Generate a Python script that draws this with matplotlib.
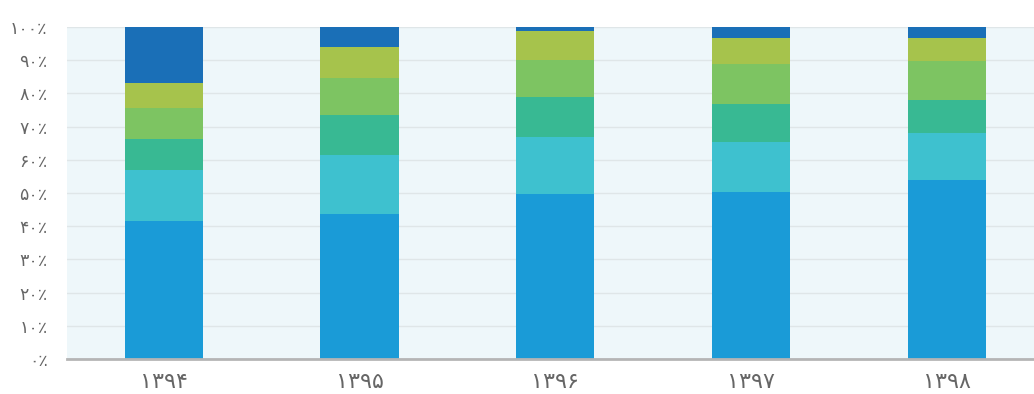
import matplotlib
matplotlib.use("Agg")
import matplotlib.pyplot as plt
import numpy as np

years = ["۱۳۹۴", "۱۳۹۵", "۱۳۹۶", "۱۳۹۷", "۱۳۹۸"]
s1 = [41.6, 43.7, 49.6, 50.3, 54.0]
s2 = [15.2, 17.7, 17.3, 15.1, 14.1]
s3 = [9.5, 12.0, 12.1, 11.3, 9.8]
s4 = [9.2, 11.3, 11.2, 12.2, 11.8]
s5 = [7.5, 9.2, 8.7, 7.9, 7.1]
s6 = [17.0, 6.1, 1.1, 3.2, 3.2]
yticks = [0, 10, 20, 30, 40, 50, 60, 70, 80, 90, 100]
ytick_labels = ["۰٪", "۱۰٪", "۲۰٪", "۳۰٪", "۴۰٪", "۵۰٪", "۶۰٪", "۷۰٪", "۸۰٪", "۹۰٪", "۱۰۰٪"]

colors = ["#1a9bd7", "#3ec1cf", "#38b993", "#7dc462", "#a6c34c", "#1a6fb7"]
series = [s1, s2, s3, s4, s5, s6]

plt.rcParams['font.family'] = ['DejaVu Sans']
fig = plt.figure(figsize=(10.34, 3.94), dpi=100)
ax = fig.add_axes([67/1034, 35/394, 1 - 67/1034, 332/394])
ax.set_facecolor("#eef7fa")

x = np.arange(len(years))
bottom = np.zeros(len(years))
for vals, c in zip(series, colors):
    ax.bar(x, vals, bottom=bottom, width=0.4, color=c, edgecolor='none', zorder=3)
    bottom += np.array(vals)

ax.set_xlim(-0.495, 4.446)
ax.set_ylim(0, 100)
ax.set_yticks(yticks)
ax.set_yticklabels(ytick_labels, fontsize=12.5, color="#666666")
ax.set_xticks(x)
ax.set_xticklabels(years, fontsize=16, color="#666666")
ax.tick_params(axis='both', length=0)
ax.tick_params(axis='y', pad=14)
ax.tick_params(axis='x', pad=9)
ax.yaxis.grid(True, color="#dfe6e8", linewidth=1, zorder=0)
ax.set_axisbelow(True)
for s in ['top', 'right', 'left']:
    ax.spines[s].set_visible(False)
ax.spines['bottom'].set_color("#b5b5b5")
ax.spines['bottom'].set_linewidth(2)
ax.spines['bottom'].set_zorder(4)

fig.savefig("out.png", dpi=100)
